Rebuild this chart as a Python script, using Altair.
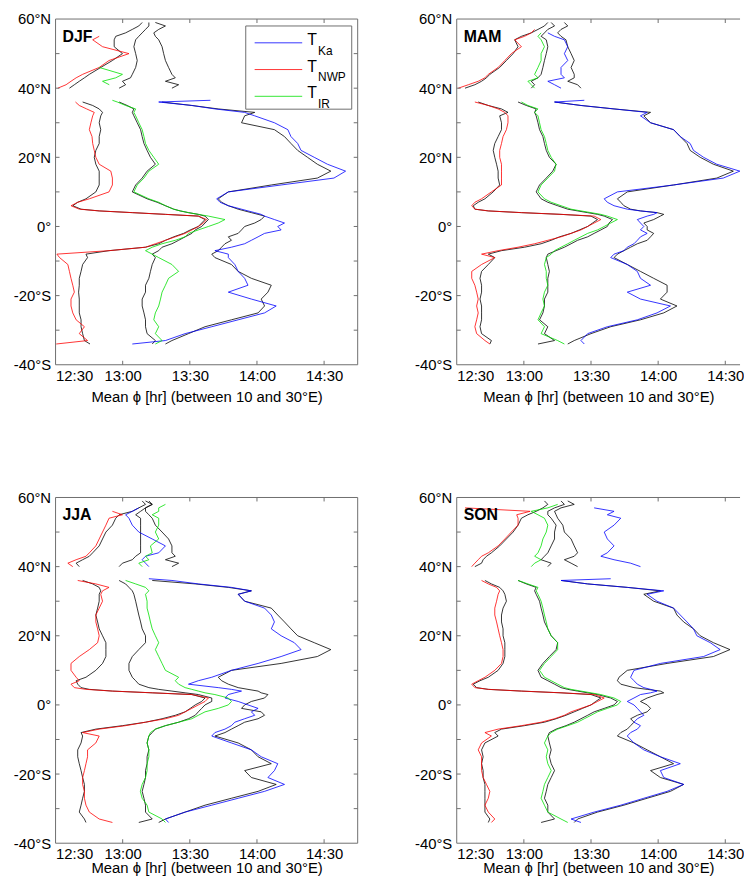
import altair as alt
import pandas as pd

N = None

# Latitude grids (degrees; negative = south)
LAT_S = [-34, -33, -31, -29, -27, -25, -23, -21, -19, -17, -15, -13, -11, -9,
         -8, -7, -6, -5, -4, -3, -2, -1, 0, 1, 2,
         3, 3.5, 4, 4.5, 5, 6, 7, 8,
         10, 12, 14, 16, 18, 20, 22, 24, 26, 28, 30, 32, 33, 34, 35, 36,
         36.5]
LAT_N = [40, 41, 42, 43, 44, 46, 48, 50, 52, 54, 55, 56, 57, 58, 59]

# Mean phase, minutes after 12:00 local time
# ---- DJF ----
DJF_KA_S = [64.3, 79.1, 87.9, 99.8, 111.6, 123.4, 128.6, 117.5, 107.2, 116.0, 114.5, 111.6, 110.1, 107.2,
            107.2, 101.2, 108.6, 114.5, 117.5, 120.5, 123.4, 130.8, 129.3, 132.3, 127.8,
            123.4, 121.9, 119.0, 116.0, 113.1, 107.2, 103.5, 102.0,
            107.2, 130.8, 154.4, 159.6, 151.5, 145.6, 139.7, 138.2, 135.2, 133.8, 127.8, 119.0, 114.5, 101.2, 90.9, 76.1,
            99.2]
DJF_KA0_S = [79.1, 82.0, 89.4, 96.8, 108.6, 120.5, 123.4, 121.9, 124.9, 126.4, 117.5, 111.6, 108.6, 101.2,
             99.8, 102.7, 104.2, 105.7, 108.6, 107.2, 111.6, 113.1, 114.5, 119.0, 121.9,
             123.4, 120.5, 117.5, 114.5, 111.6, 107.2, 104.2, 102.7,
             107.2, 126.4, 147.0, 153.0, 147.0, 142.6, 138.2, 135.2, 132.3, 127.8, 113.1, 114.5, 119.0, 102.7, 90.9, 77.6,
             N]
DJF_NWP_S = [30.3, 44.3, 40.6, 42.9, 39.2, 37.7, 36.9, 36.9, 38.4, 37.7, 36.9, 36.2, 35.5, 31.8,
             30.6, 53.9, 70.2, 74.6, 79.1, 83.5, 87.9, 90.9, 93.8, 96.1, 97.5,
             93.8, 79.1, 64.3, 49.5, 40.6, 36.9, 39.9, 45.1,
             53.9, 55.4, 55.4, 54.7, 49.5, 48.0, 47.3, 46.6, 46.3, 45.1, 45.8, 46.6, 47.3, 43.9, 40.6, 38.9,
             N]
DJF_NWP0_S = [45.4, 42.9, 42.1, 41.4, 41.4, 40.6, 40.6, 40.6, 40.3, 40.6, 40.6, 41.4, 42.1, 44.3,
              43.6, 53.9, 70.2, 76.1, 79.1, 82.8, 87.2, 90.2, 93.8, 95.3, 96.8,
              93.8, 79.1, 64.3, 49.5, 41.4, 37.7, 39.9, 43.6,
              48.0, 49.5, 49.5, 49.5, 48.0, 47.3, 48.0, 49.5, 49.5, 50.2, 49.5, 50.2, 51.0, 49.5, 46.6, 42.1,
              N]
DJF_IR_S = [74.6, 77.6, 74.6, 76.1, 73.9, 74.6, 76.1, 76.9, 77.6, 79.1, 80.5, 85.0, 82.0, 76.1,
            73.2, 70.2, 73.2, 77.6, 83.5, 87.9, 89.4, 93.8, 98.3, 102.7, 105.7,
            98.3, 93.8, 89.4, 85.7, 82.8, 79.1, 76.1, 71.7,
            65.0, 66.5, 69.5, 71.7, 76.1, 73.9, 71.7, 70.2, 69.5, 68.7, 67.2, 65.8, 65.0, 65.8, 61.3, 57.6,
            55.4]
DJF_IR0_S = [73.2, 74.6, 70.9, 70.2, 70.2, 69.5, 68.7, 68.7, 70.2, 70.2, 71.7, 72.4, 73.2, 74.6,
             73.2, 76.1, 77.6, 82.0, 85.0, 87.9, 90.9, 92.4, 95.3, 96.8, 98.3,
             96.8, 93.8, 89.4, 85.7, 82.8, 79.1, 75.4, 70.9,
             64.3, 65.8, 68.7, 70.9, 74.6, 72.4, 70.9, 69.5, 68.7, 68.0, 66.5, 65.0, 64.3, 65.0, 62.0, 58.4,
             N]
DJF_KA_N = [N] * 15
DJF_KA0_N = [82.0, 85.0, 79.1, 83.5, 82.0, 80.5, 79.1, 78.3, 77.6, 76.1, 74.6, 73.9, 76.1, 79.1, 74.6]
DJF_NWP_N = [31.0, 34.7, 36.9, 39.2, 42.1, 49.5, 53.9, 62.8, 51.0, 46.6, 49.5, N, N, N, N]
DJF_NWP0_N = [36.2, 38.4, 40.6, 42.9, 45.1, 50.2, 55.4, 59.9, 56.2, 56.2, 56.9, 61.3, 64.3, 67.2, 68.7]
DJF_IR_N = [N, 54.0, 51.0, 56.9, 59.9, 49.5, N, N, N, N, N, N, N, N, N]
DJF_IR0_N = [58.4, 61.3, 59.9, 63.5, 64.3, 65.8, 66.5, 65.8, 65.0, 65.8, 67.2, 68.7, 70.2, 71.7, 71.7]

# ---- MAM ----
MAM_KA_S = [87.0, 85.5, 88.5, 97.3, 110.7, 119.5, 125.5, 112.1, 106.2, 116.6, 112.1, 110.7, 106.2, 98.8,
            100.3, 104.7, 106.2, 109.2, 110.7, 112.1, 115.1, 112.1, 113.6, 112.1, 110.7,
            115.1, 118.0, 119.5, 112.1, 106.2, 100.3, 97.3, 95.9,
            101.8, 126.9, 149.1, 156.5, 146.2, 140.3, 135.8, 134.3, 129.9, 126.9, 116.6, 112.1, 115.1, 100.3, 85.5, 73.7,
            87.0]
MAM_KA0_S = [79.6, 82.5, 90.0, 98.8, 112.1, 122.5, 128.4, 121.0, 124.0, 124.0, 118.0, 112.1, 106.2, 100.3,
             101.8, 104.7, 107.7, 110.7, 115.1, 116.6, 118.0, 115.1, 115.1, 113.6, 118.0,
             121.0, 122.5, 119.5, 112.1, 107.7, 104.7, 103.3, 101.8,
             106.2, 126.9, 146.2, 153.6, 144.7, 138.8, 134.3, 132.9, 129.9, 126.9, 116.6, 113.6, 116.6, 100.3, 85.5, 73.7,
             N]
MAM_NWP_S = [44.8, 42.6, 38.9, 38.1, 38.9, 39.6, 38.9, 39.6, 38.9, 38.1, 36.7, 36.7, 41.1, 47.0,
             41.1, 48.5, 57.4, 64.8, 70.7, 76.6, 81.1, 85.5, 88.5, 91.4, 94.4,
             91.4, 76.6, 58.9, 44.1, 38.1, 36.7, 38.1, 41.1,
             45.5, 50.0, 50.0, 50.0, 50.0, 49.2, 49.2, 50.0, 50.7, 52.2, 52.9, 52.9, 51.5, 48.5, 44.1, 38.1,
             N]
MAM_NWP0_S = [44.8, 45.5, 41.1, 40.4, 41.1, 41.1, 41.1, 40.4, 41.1, 41.1, 40.4, 41.1, 44.1, 47.0,
              44.1, 50.0, 60.3, 67.7, 72.2, 75.9, 81.1, 84.8, 88.5, 90.7, 92.9,
              90.0, 76.6, 58.9, 44.1, 38.1, 37.4, 39.6, 42.6,
              46.3, 49.2, 48.5, 48.5, 47.8, 47.0, 46.3, 47.0, 48.5, 50.0, 50.0, 49.2, 52.9, 50.0, 44.1, 39.6,
              N]
MAM_IR_S = [78.1, 75.1, 67.7, 69.2, 66.3, 67.7, 69.2, 68.5, 69.2, 70.7, 70.0, 70.0, 69.2, 70.0,
            72.2, 73.7, 76.6, 79.6, 82.5, 85.5, 88.5, 92.9, 95.9, 98.8, 101.8,
            97.3, 94.4, 90.0, 85.5, 81.1, 76.6, 72.2, 69.2,
            66.3, 67.7, 70.7, 73.7, 74.4, 72.2, 70.7, 70.0, 69.2, 67.7, 67.0, 66.3, 64.8, 66.3, 61.8, 58.9,
            N]
MAM_IR0_S = [66.3, 73.7, 69.2, 70.7, 67.0, 68.5, 69.2, 69.2, 70.7, 70.7, 70.7, 71.4, 70.7, 70.0,
             70.7, 74.4, 78.1, 81.1, 84.0, 88.5, 91.4, 94.4, 97.3, 98.1, 99.6,
             95.9, 92.9, 88.5, 84.0, 79.6, 75.1, 70.7, 67.7,
             65.5, 67.0, 70.0, 72.9, 74.4, 71.4, 70.0, 69.2, 68.5, 67.0, 66.3, 65.5, 64.8, 65.5, 61.1, 57.4,
             N]
MAM_KA_N = [76.6, 73.7, 70.7, 78.1, 76.6, 76.6, 79.6, 78.1, 79.6, 78.1, 73.7, 70.7, N, N, N]
MAM_KA0_N = [85.5, 84.0, 79.6, 82.5, 82.5, 81.1, 82.5, 81.1, 79.6, 78.8, 76.6, 75.1, 76.6, 79.6, 78.1]
MAM_NWP_N = [30.7, 35.2, 39.6, 42.6, 44.1, 48.5, 51.5, 54.4, 58.9, 55.9, 60.3, 63.3, 64.8, N, N]
MAM_NWP0_N = [33.7, 38.1, 41.1, 43.3, 44.8, 49.2, 52.2, 55.2, 57.4, 55.9, 58.9, 63.3, 66.3, 69.2, 70.7]
MAM_IR_N = [64.8, 63.3, 61.8, 66.3, 64.8, 66.3, 67.7, 67.7, 69.2, 67.7, 66.3, 67.7, N, N, N]
MAM_IR0_N = [63.3, 64.8, 63.3, 66.3, 67.7, 68.5, 69.2, 70.0, 70.7, 70.0, 67.7, 69.2, 70.7, 73.7, 72.2]

# ---- JJA ----
JJA_KA_S = [80.5, 79.1, 87.9, 99.8, 111.6, 123.4, 132.3, 124.9, 127.8, 129.3, 121.9, 117.5, 108.6, 99.8,
            101.2, 105.7, 108.6, 110.1, 114.5, 119.0, 117.5, 120.5, 116.0, 111.6, 105.7,
            107.2, 110.1, 113.1, 108.6, 102.7, 89.4, 93.8, 99.8,
            108.6, 120.5, 130.8, 139.7, 136.7, 130.8, 126.4, 127.8, 126.4, 123.4, 114.5, 111.6, 117.5, 108.6, 93.8, 82.0,
            71.7]
JJA_KA0_S = [76.1, 79.1, 87.9, 96.8, 108.6, 120.5, 128.6, 117.5, 114.5, 126.4, 120.5, 117.5, 111.6, 101.2,
             105.7, 108.6, 111.6, 114.5, 120.5, 123.4, 121.9, 113.1, 114.5, 117.5, 123.4,
             124.9, 121.9, 120.5, 116.0, 111.6, 107.2, 104.2, 102.7,
             108.6, 130.8, 147.0, 153.0, 145.6, 138.2, 135.2, 132.3, 129.3, 126.4, 114.5, 111.6, 117.5, 107.2, 92.4, 73.2,
             N]
JJA_NWP_S = [55.4, 49.5, 45.1, 43.6, 42.9, 42.9, 42.1, 42.1, 42.9, 43.6, 44.3, 44.3, 48.0, 49.5,
             42.1, 49.5, 61.3, 70.2, 79.1, 85.0, 87.9, 90.9, 93.8, 96.8, 98.3,
             90.9, 73.2, 55.4, 43.6, 38.4, 36.9, 40.6, 39.2,
             36.9, 36.9, 40.6, 45.1, 48.8, 49.5, 48.8, 48.0, 48.0, 49.5, 51.0, 50.2, 51.0, 53.9, 48.0, 39.9,
             N]
JJA_NWP0_S = [43.6, 42.9, 40.6, 41.4, 42.1, 42.9, 42.9, 42.1, 41.4, 40.6, 39.9, 39.9, 41.4, 42.1,
              41.4, 48.0, 59.9, 70.2, 77.6, 83.5, 87.9, 90.2, 92.4, 95.3, 96.8,
              90.9, 73.2, 55.4, 45.1, 41.4, 39.9, 39.2, 43.6,
              48.0, 51.0, 52.5, 52.5, 52.5, 51.0, 49.5, 48.8, 48.0, 48.8, 49.5, 49.5, 50.2, 49.5, 46.6, 42.1,
              N]
JJA_IR_S = [79.1, 77.6, 71.7, 70.9, 68.7, 67.9, 68.7, 70.2, 70.9, 70.9, 71.7, 71.7, 70.9, 71.7,
            72.4, 74.6, 79.1, 85.0, 90.9, 93.8, 96.8, 102.7, 107.2, 108.6, 107.2,
            101.2, 96.8, 93.8, 90.9, 87.9, 85.0, 83.5, 85.0,
            79.1, 77.6, 76.1, 74.6, 76.1, 74.6, 73.2, 72.4, 71.7, 70.9, 70.9, 70.2, 71.7, 70.2, 65.8, 61.3,
            N]
JJA_IR0_S = [67.2, 73.2, 70.2, 70.2, 69.5, 68.7, 69.5, 70.2, 70.2, 70.9, 70.9, 71.7, 70.9, 71.7,
             73.2, 74.6, 79.1, 85.0, 89.4, 92.4, 93.8, 95.3, 96.8, 99.8, 99.8,
             93.8, 87.9, 82.0, 76.1, 71.7, 67.2, 65.8, 64.3,
             62.8, 62.8, 64.3, 67.2, 70.2, 70.2, 68.7, 68.0, 67.2, 66.5, 65.8, 65.0, 64.3, 62.8, 61.3, 58.4,
             N]
JJA_KA_N = [71.7, 70.2, 68.7, 70.2, 76.1, 79.1, 73.2, 67.2, 64.3, 62.8, 61.3, 64.3, 67.2, N, N]
JJA_KA0_N = [82.0, 85.0, 79.1, 83.5, 82.0, 82.0, 80.5, 77.6, 74.6, 73.2, 71.7, 70.2, 70.2, 73.2, 70.2]
JJA_NWP_N = [37.7, 35.5, 39.2, 43.6, 45.1, 48.0, 49.5, 51.0, 52.5, 53.9, 59.9, 55.4, N, N, N]
JJA_NWP0_N = [40.6, 39.2, 42.1, 45.1, 46.6, 49.5, 51.0, 52.5, 55.4, 56.9, 58.4, 64.3, 67.2, 70.2, 68.7]
JJA_IR_N = [68.7, 67.2, 71.7, 70.2, 73.2, 72.4, 76.1, 74.6, 76.1, 76.1, 73.2, 76.1, 76.1, 79.1, N]
JJA_IR0_N = [58.4, 59.9, 64.3, 65.8, 68.0, 68.0, 68.0, 68.0, 68.0, 68.0, 65.8, 68.0, 70.2, 73.2, 71.7]

# ---- SON ----
SON_KA_S = [85.5, 81.1, 91.4, 103.3, 113.6, 124.0, 131.4, 122.5, 121.0, 129.9, 121.0, 113.6, 109.2, 106.2,
            107.7, 110.7, 112.1, 109.2, 110.7, 113.6, 112.1, 110.7, 109.2, 106.2, 109.2,
            112.1, 116.6, 119.5, 116.6, 113.6, 110.7, 109.2, 107.7,
            109.2, 121.0, 140.3, 147.7, 143.3, 137.3, 135.8, 132.9, 129.9, 126.9, 119.5, 115.1, 122.5, 106.2, 88.5, 76.6,
            98.8]
SON_KA0_S = [82.5, 84.0, 92.9, 104.7, 115.1, 125.5, 131.4, 121.0, 116.6, 126.9, 121.0, 115.1, 109.2, 101.8,
             103.3, 106.2, 107.7, 109.2, 107.7, 110.7, 115.1, 116.6, 115.1, 112.1, 115.1,
             119.5, 122.5, 121.0, 115.1, 109.2, 103.3, 101.8, 102.5,
             106.2, 124.0, 144.7, 152.1, 144.7, 138.8, 135.8, 131.4, 128.4, 126.9, 118.0, 113.6, 121.0, 106.2, 88.5, 76.6,
             N]
SON_NWP_S = [45.5, 47.0, 44.1, 42.6, 44.1, 44.8, 43.3, 41.8, 41.1, 41.1, 41.1, 39.6, 41.1, 45.5,
             42.6, 48.5, 58.9, 67.7, 73.7, 78.1, 81.1, 85.5, 90.0, 92.9, 95.9,
             91.4, 76.6, 58.9, 44.1, 38.1, 36.7, 39.6, 42.6,
             47.0, 50.0, 50.7, 50.7, 50.0, 49.2, 48.5, 47.8, 47.0, 47.0, 47.8, 48.5, 49.2, 47.8, 44.1, 41.1,
             N]
SON_NWP0_S = [44.1, 44.8, 42.6, 42.6, 42.6, 42.6, 42.6, 41.8, 41.8, 41.1, 41.8, 41.1, 42.6, 48.5,
              47.0, 50.0, 60.3, 69.2, 74.4, 78.8, 82.5, 86.2, 90.0, 92.1, 94.4,
              90.0, 76.6, 58.9, 44.1, 38.9, 37.4, 40.4, 44.1,
              48.5, 50.7, 51.5, 51.5, 51.5, 50.7, 50.7, 50.0, 50.0, 50.7, 52.2, 51.5, 50.7, 49.2, 45.5, 42.6,
              N]
SON_IR_S = [79.6, 76.6, 70.7, 69.2, 67.7, 68.5, 69.2, 70.7, 72.2, 70.7, 70.0, 70.7, 69.2, 70.7,
            72.2, 75.1, 79.6, 84.0, 87.0, 90.0, 92.9, 97.3, 101.8, 103.3, 100.3,
            94.4, 90.0, 85.5, 81.1, 78.1, 75.1, 72.2, 69.2,
            67.0, 69.2, 72.2, 75.1, 75.1, 72.2, 70.7, 70.0, 69.2, 68.5, 67.7, 66.3, 65.5, 66.3, 61.8, 57.4,
            N]
SON_IR0_S = [67.7, 73.7, 70.7, 70.7, 69.2, 70.0, 70.7, 72.2, 73.7, 72.2, 71.4, 72.2, 71.4, 70.7,
             71.4, 74.4, 78.8, 82.5, 85.5, 88.5, 91.4, 95.9, 100.3, 101.8, 98.8,
             92.9, 88.5, 84.0, 79.6, 76.6, 73.7, 70.7, 67.7,
             66.3, 68.5, 71.4, 74.4, 75.1, 72.2, 70.7, 69.2, 68.5, 67.7, 67.0, 65.5, 64.8, 65.5, 61.1, 57.4,
             N]
SON_KA_N = [112.1, 107.7, 100.3, 94.4, 97.3, 100.3, 97.3, 95.9, 100.3, 103.3, 97.3, 100.3, 91.4, N, N]
SON_KA0_N = [84.0, 81.1, 78.1, 82.5, 84.0, 82.5, 81.1, 78.1, 77.4, 75.1, 74.4, 73.7, 76.6, 82.5, 79.6]
SON_NWP_N = [36.7, 38.1, 39.6, 41.1, 44.1, 48.5, 51.5, 54.4, 57.4, 57.4, 56.8, 62.8, 33.7, N, N]
SON_NWP0_N = [38.1, 41.1, 41.8, 43.3, 45.5, 49.2, 52.2, 55.2, 57.4, 58.9, 61.8, 65.5, 68.5, 70.7, 69.2]
SON_IR_N = [63.3, 64.8, 67.7, 64.8, 66.3, 67.7, 68.5, 70.0, 70.7, 69.2, 66.3, 63.3, 70.7, 75.1, N]
SON_IR0_N = [70.7, 72.2, 67.7, 69.2, 70.7, 72.2, 73.7, 73.7, 74.4, 72.2, 70.7, 70.7, 73.7, 78.1, 76.6]

SEASONS = ["DJF", "MAM", "JJA", "SON"]
SERIES = ["KA0", "NWP0", "IR0", "KA", "NWP", "IR"]
COLORS = ["#000000", "#000000", "#000000", "#0000ff", "#ff0000", "#00e000"]
LEGEND_SUBS = ["Ka", "NWP", "IR"]
LEGEND_COLORS = ["#0000ff", "#ff0000", "#00e000"]
X_TICKS = [30, 60, 90, 120, 150]
Y_TICKS = [-40, -30, -20, -10, 0, 10, 20, 30, 40, 50, 60]
X_TITLE = "Mean \u03d5 [hr] (between 10 and 30\u00b0E)"
X_MIN, X_MAX = 30, 165

G = globals()
rows = []
for s in SEASONS:
    for k in SERIES:
        for seg, lats in (("S", LAT_S), ("N", LAT_N)):
            vals = G[f"{s}_{k}_{seg}"]
            for la, v in zip(lats, vals):
                if v is not None:
                    rows.append({"season": s, "series": k, "seg": seg, "lat": la, "t": v})
df = pd.DataFrame(rows)

W_FULL, H = 305, 349
W_CUT = 286          # right-hand panels are cut by the page edge
FONT = "Liberation Sans"
BOX = "#6e6e6e"


def panel(season, width, legend=False, right_border=True, label_pad=4, title_pad=6):
    x_hi = X_MIN + (X_MAX - X_MIN) * width / W_FULL
    xscale = alt.Scale(domain=[X_MIN, x_hi], nice=False, zero=False)
    yscale = alt.Scale(domain=[-40, 60], nice=False, zero=False)
    src = df[df.season == season]
    lines = alt.Chart(src).mark_line(strokeWidth=0.8, clip=True).encode(
        x=alt.X("t:Q", scale=xscale,
                axis=alt.Axis(values=X_TICKS, title=X_TITLE, labelPadding=label_pad, titlePadding=title_pad,
                              labelExpr="(floor(datum.value/60)+12) + ':' + (datum.value % 60 == 0 ? '00' : '30')")),
        y=alt.Y("lat:Q", scale=yscale,
                axis=alt.Axis(values=Y_TICKS, title=None, labelPadding=5,
                              labelExpr="datum.value > 0 ? datum.value + '\u00b0N' : (datum.value < 0 ? datum.value + '\u00b0S' : '0\u00b0')")),
        color=alt.Color("series:N", scale=alt.Scale(domain=SERIES, range=COLORS), legend=None),
        detail="seg:N",
        order="lat:Q",
    )
    one = pd.DataFrame({"a": [0]})
    frame = dict(color=BOX, strokeWidth=1)
    layers = [lines]
    # plot frame
    layers.append(alt.Chart(one).mark_rule(**frame).encode(x=alt.value(0), x2=alt.value(width), y=alt.value(0)))
    layers.append(alt.Chart(one).mark_rule(**frame).encode(x=alt.value(0), x2=alt.value(width), y=alt.value(H)))
    layers.append(alt.Chart(one).mark_rule(**frame).encode(x=alt.value(0), y=alt.value(0), y2=alt.value(H)))
    if right_border:
        layers.append(alt.Chart(one).mark_rule(**frame).encode(x=alt.value(width), y=alt.value(0), y2=alt.value(H)))
    # inward ticks
    xt = pd.DataFrame({"t": X_TICKS[1:]})
    yt = pd.DataFrame({"lat": Y_TICKS[1:-1]})
    layers.append(alt.Chart(xt).mark_rule(**frame).encode(x="t:Q", y=alt.value(H), y2=alt.value(H - 4)))
    layers.append(alt.Chart(xt).mark_rule(**frame).encode(x="t:Q", y=alt.value(0), y2=alt.value(4)))
    layers.append(alt.Chart(yt).mark_rule(**frame).encode(y="lat:Q", x=alt.value(0), x2=alt.value(4)))
    if right_border:
        layers.append(alt.Chart(yt).mark_rule(**frame).encode(y="lat:Q", x=alt.value(width), x2=alt.value(width - 4)))
    # season label
    layers.append(alt.Chart(pd.DataFrame({"s": [season]})).mark_text(
        align="left", baseline="middle", font=FONT, fontSize=16, fontWeight="bold", color="#000"
    ).encode(x=alt.value(7), y=alt.value(18), text="s:N"))
    if legend:
        layers.append(alt.Chart(one).mark_rect(fill="white", stroke=BOX, strokeWidth=1).encode(
            x=alt.value(192), x2=alt.value(299), y=alt.value(7), y2=alt.value(91)))
        for i, (sub, col) in enumerate(zip(LEGEND_SUBS, LEGEND_COLORS)):
            yy = 24 + 27 * i
            layers.append(alt.Chart(one).mark_rule(color=col, strokeWidth=0.8).encode(
                x=alt.value(201), x2=alt.value(249), y=alt.value(yy)))
            layers.append(alt.Chart(pd.DataFrame({"s": ["T"]})).mark_text(
                align="left", baseline="middle", font=FONT, fontSize=16, color="#000"
            ).encode(x=alt.value(254), y=alt.value(yy - 3), text="s:N"))
            layers.append(alt.Chart(pd.DataFrame({"s": [sub]})).mark_text(
                align="left", baseline="middle", font=FONT, fontSize=12, color="#000"
            ).encode(x=alt.value(265), y=alt.value(yy + 8), text="s:N"))
    return alt.layer(*layers).properties(width=width, height=H)


top = alt.hconcat(
    panel("DJF", W_FULL, legend=True, title_pad=6),
    panel("MAM", W_CUT, right_border=False, title_pad=6),
    spacing=56,
)
bottom = alt.hconcat(
    panel("JJA", W_FULL, label_pad=3, title_pad=0),
    panel("SON", W_CUT, right_border=False, label_pad=3, title_pad=0),
    spacing=56,
)
chart = alt.vconcat(top, bottom, spacing=87).properties(
    padding={"left": 5, "top": 0, "right": 0, "bottom": 0}
).configure_view(strokeOpacity=0).configure_axis(
    domain=False, ticks=False, grid=False,
    labelFont=FONT, labelFontSize=15, labelColor="#000",
    titleFont=FONT, titleFontSize=15, titleFontWeight="normal", titleColor="#000",
)

chart.save("out.html", embed_options={"renderer": "svg", "actions": False})
